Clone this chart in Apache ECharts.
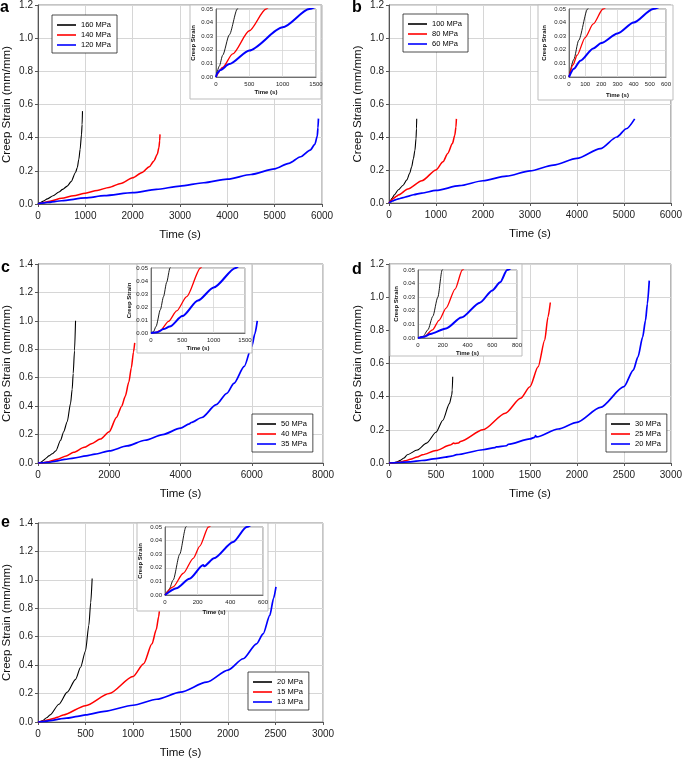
<!DOCTYPE html>
<html>
<head>
<meta charset="utf-8">
<script src="https://cdn.jsdelivr.net/npm/echarts@6/dist/echarts.min.js"></script>
<style>
html,body{margin:0;padding:0;background:#fff;}
#chart{width:685px;height:760px;}
</style>
</head>
<body>
<div id="chart"></div>
<script>
// ---------------- DATA (time s, creep strain mm/mm) ----------------
const a160 = [[0,0],[50,0.008],[100,0.016],[200,0.031],[320,0.05],[442,0.072],[520,0.088],[617,0.108],[700,0.135],[793,0.19],[830,0.22],[863,0.27],[890,0.33],[919,0.42],[932,0.48],[940,0.56]];
const a140 = [[0,0],[100,0.007],[250,0.017],[500,0.034],[750,0.05],[1000,0.065],[1250,0.082],[1500,0.10],[1750,0.124],[2000,0.158],[2200,0.19],[2350,0.225],[2450,0.26],[2520,0.30],[2555,0.34],[2570,0.38],[2578,0.42]];
const a120 = [[0,0],[20,0.003],[60,0.005],[200,0.0095],[500,0.0195],[1000,0.0365],[1400,0.05],[2000,0.068],[2500,0.088],[3000,0.108],[3500,0.128],[4000,0.15],[4500,0.178],[5000,0.212],[5300,0.245],[5550,0.285],[5750,0.325],[5850,0.36],[5900,0.41],[5915,0.46],[5925,0.515]];

const b100 = [[0,0],[30,0.013],[60,0.027],[115,0.05],[200,0.08],[300,0.108],[380,0.14],[440,0.18],[483,0.22],[520,0.27],[552,0.32],[575,0.39],[585,0.45],[590,0.51]];
const b80 = [[0,0],[25,0.009],[50,0.016],[100,0.029],[150,0.039],[210,0.05],[400,0.085],[700,0.135],[1000,0.20],[1150,0.25],[1250,0.30],[1350,0.36],[1400,0.41],[1425,0.46],[1435,0.51]];
const b60 = [[0,0],[30,0.006],[70,0.012],[150,0.021],[200,0.025],[300,0.032],[400,0.040],[520,0.05],[700,0.06],[1000,0.076],[1500,0.105],[2000,0.135],[2500,0.163],[3000,0.195],[3500,0.23],[4000,0.27],[4500,0.33],[4850,0.40],[5050,0.45],[5230,0.51]];

const c50 = [[0,0],[40,0.001],[80,0.005],[150,0.018],[200,0.028],[250,0.039],[303,0.05],[400,0.065],[500,0.085],[634,0.16],[720,0.22],[820,0.29],[914,0.42],[960,0.52],[988,0.63],[1025,0.79],[1054,1.0]];
const c40 = [[0,0],[80,0.0005],[150,0.002],[280,0.009],[410,0.017],[570,0.028],[790,0.05],[1000,0.075],[1300,0.11],[1500,0.135],[1750,0.168],[2000,0.22],[2200,0.32],[2350,0.40],[2450,0.47],[2550,0.57],[2620,0.67],[2680,0.78],[2715,0.845]];
const c35 = [[0,0],[100,0.0005],[200,0.003],[300,0.005],[500,0.013],[750,0.025],[1000,0.035],[1350,0.05],[1600,0.062],[2000,0.085],[2500,0.12],[3000,0.16],[3500,0.20],[4000,0.245],[4250,0.275],[4300,0.285],[4600,0.32],[5000,0.41],[5300,0.49],[5500,0.56],[5790,0.68],[6000,0.82],[6090,0.91],[6155,1.0]];

const d30 = [[0,0],[40,0.001],[80,0.006],[120,0.016],[160,0.03],[195,0.05],[300,0.078],[400,0.12],[500,0.185],[573,0.258],[643,0.358],[668,0.41],[673,0.44],[678,0.52]];
const d25 = [[0,0],[50,0.001],[117,0.006],[170,0.013],[227,0.022],[300,0.036],[358,0.05],[500,0.075],[650,0.108],[690,0.12],[700,0.117],[740,0.12],[760,0.13],[1000,0.20],[1238,0.30],[1400,0.39],[1500,0.46],[1587,0.58],[1657,0.74],[1692,0.88],[1717,0.968]];
const d20 = [[0,0],[50,0.001],[100,0.003],[227,0.007],[350,0.015],[500,0.026],[600,0.035],[664,0.041],[720,0.05],[1000,0.08],[1130,0.093],[1140,0.097],[1250,0.104],[1270,0.113],[1500,0.145],[1550,0.155],[1560,0.165],[1570,0.157],[1800,0.205],[2000,0.245],[2250,0.335],[2500,0.46],[2600,0.56],[2650,0.64],[2700,0.76],[2730,0.86],[2750,0.96],[2770,1.1]];

const e20 = [[0,0],[25,0.004],[50,0.011],[90,0.03],[128,0.05],[220,0.125],[308,0.21],[395,0.30],[448,0.385],[500,0.50],[535,0.68],[555,0.84],[570,1.01]];
const e15 = [[0,0],[50,0.006],[112,0.016],[173,0.027],[213,0.036],[266,0.05],[500,0.115],[750,0.20],[1000,0.32],[1112,0.41],[1200,0.55],[1245,0.65],[1270,0.74],[1285,0.82],[1295,0.9]];
const e13 = [[0,0],[70,0.005],[150,0.012],[234,0.022],[240,0.0212],[300,0.027],[417,0.039],[500,0.05],[700,0.075],[1000,0.118],[1250,0.16],[1500,0.21],[1775,0.28],[2000,0.365],[2160,0.445],[2300,0.55],[2370,0.62],[2440,0.75],[2480,0.87],[2505,0.95]];

// series labels
const namesA = ['160 MPa','140 MPa','120 MPa'];
const namesB = ['100 MPa','80 MPa','60 MPa'];
const namesC = ['50 MPa','40 MPa','35 MPa'];
const namesD = ['30 MPa','25 MPa','20 MPa'];
const namesE = ['20 MPa','15 MPa','13 MPa'];

// axis ranges
const xMaxMain = {a:6000,b:6000,c:8000,d:3000,e:3000};
const xIntMain = {a:1000,b:1000,c:2000,d:500,e:500};
const yMaxMain = {a:1.2,b:1.2,c:1.4,d:1.2,e:1.4};
const xMaxInset = {a:1500,b:600,c:1500,d:800,e:600};
const xIntInset = {a:500,b:100,c:500,d:200,e:200};
const yMaxInset = 0.05;

const colors = ['#000000','#ff0000','#0000ff'];

// ---------------- LAYOUT ----------------
const FONT = 'Liberation Sans, Arial, sans-serif';
const layout = {
  a:{grid:{left:37,top:5,width:285,height:199}, inset:{left:216,top:9,width:100,height:68}, box:[190,5,131,94], legend:{left:52,top:15}, letter:[0,8], inName:[12,20]},
  b:{grid:{left:389,top:5,width:285,height:198}, inset:{left:569,top:9,width:97,height:68}, box:[538,5,135,95], legend:{left:403,top:14}, letter:[352,8], inName:[15,22]},
  c:{grid:{left:37,top:264,width:286,height:199}, inset:{left:151,top:268,width:94,height:65}, box:[137,264,115,89], legend:{left:252,top:414}, letter:[1,268], inName:[12,19]},
  d:{grid:{left:389,top:264,width:285,height:199}, inset:{left:418,top:270,width:99,height:68}, box:[390,264,132,92], legend:{left:606,top:414}, letter:[352,269.5], inName:[12,18]},
  e:{grid:{left:37,top:523,width:286,height:199}, inset:{left:165,top:527,width:98,height:68}, box:[137,523,131,88], legend:{left:248,top:672}, letter:[1,523], inName:[14,22]}
};

const panelData = {
  a:{names:namesA, data:[a160,a140,a120]},
  b:{names:namesB, data:[b100,b80,b60]},
  c:{names:namesC, data:[c50,c40,c35]},
  d:{names:namesD, data:[d30,d25,d20]},
  e:{names:namesE, data:[e20,e15,e13]}
};

const mainWidths = [1.1,1.5,1.7];
const insetWidths = [0.9,1.3,2.0];

const grid = [], xAxis = [], yAxis = [], series = [], legend = [], graphic = [];
const keys = ['a','b','c','d','e'];
keys.forEach((k, pi) => {
  const L = layout[k];
  const gi = grid.length;
  grid.push(Object.assign({show:true, borderColor:'#8a8a8a', borderWidth:1, backgroundColor:'#fff', z:0}, L.grid));
  xAxis.push({type:'value', gridIndex:gi, min:0, max:xMaxMain[k], interval:xIntMain[k],
    name:'Time (s)', nameLocation:'middle', nameGap:25,
    nameTextStyle:{fontSize:11.5, fontFamily:FONT, color:'#111'},
    axisLine:{show:true, lineStyle:{color:'#555', width:1}},
    axisTick:{show:true, length:3, lineStyle:{color:'#555'}},
    axisLabel:{fontSize:10, fontFamily:FONT, color:'#222', margin:7, formatter:v=>String(v)},
    splitLine:{show:true, lineStyle:{color:'#d6d6d6', width:1}}});
  yAxis.push({type:'value', gridIndex:gi, min:0, max:yMaxMain[k], interval:0.2,
    name:'Creep Strain (mm/mm)', nameLocation:'middle', nameGap:25,
    nameTextStyle:{fontSize:11.5, fontFamily:FONT, color:'#111'},
    axisLine:{show:true, lineStyle:{color:'#555', width:1}},
    axisTick:{show:true, length:3, lineStyle:{color:'#555'}},
    axisLabel:{fontSize:10, fontFamily:FONT, color:'#222', margin:5, formatter:v=>v.toFixed(1)},
    splitLine:{show:true, lineStyle:{color:'#d6d6d6', width:1}}});
  const P = panelData[k];
  const legendNames = [];
  P.data.forEach((d, si) => {
    const nm = k + '|' + P.names[si];
    legendNames.push(nm);
    series.push({type:'line', name:nm, xAxisIndex:gi, yAxisIndex:gi, data:d, symbol:'none',
      smooth:0.25, smoothMonotone:'x', clip:true, z:2,
      lineStyle:{color:colors[si], width:mainWidths[si]}, itemStyle:{color:colors[si]}});
  });
  legend.push({data:legendNames, left:L.legend.left, top:L.legend.top, orient:'vertical',
    icon:'rect', itemWidth:19, itemHeight:1.6, itemGap:2, padding:[6,6,4,5],
    borderColor:'#222', borderWidth:0.8, backgroundColor:'#fff', z:20,
    formatter:n=>n.split('|')[1],
    textStyle:{fontSize:7.5, fontFamily:FONT, color:'#000', lineHeight:8}});

  // inset
  graphic.push({type:'rect', z:5, shape:{x:L.box[0], y:L.box[1], width:L.box[2], height:L.box[3]},
    style:{fill:'#fff', stroke:'#bdbdbd', lineWidth:1}});
  const ii = grid.length;
  grid.push(Object.assign({show:true, borderColor:'#8a8a8a', borderWidth:1, backgroundColor:'#fff', z:6}, L.inset));
  xAxis.push({type:'value', gridIndex:ii, min:0, max:xMaxInset[k], interval:xIntInset[k], z:7,
    name:'Time (s)', nameLocation:'middle', nameGap:L.inName[0],
    nameTextStyle:{fontSize:6, fontWeight:'bold', fontFamily:FONT, color:'#111'},
    axisLine:{show:true, lineStyle:{color:'#555', width:0.8}},
    axisTick:{show:false},
    axisLabel:{fontSize:6, fontFamily:FONT, color:'#222', margin:4, formatter:v=>String(v)},
    splitLine:{show:true, lineStyle:{color:'#d6d6d6', width:0.8}}});
  yAxis.push({type:'value', gridIndex:ii, min:0, max:yMaxInset, interval:0.01, z:7,
    name:'Creep Strain', nameLocation:'middle', nameGap:L.inName[1],
    nameTextStyle:{fontSize:6, fontWeight:'bold', fontFamily:FONT, color:'#111'},
    axisLine:{show:true, lineStyle:{color:'#555', width:0.8}},
    axisTick:{show:false},
    axisLabel:{fontSize:6, fontFamily:FONT, color:'#222', margin:3, formatter:v=>v.toFixed(2)},
    splitLine:{show:true, lineStyle:{color:'#d6d6d6', width:0.8}}});
  P.data.forEach((d, si) => {
    series.push({type:'line', name:k + '-inset|' + P.names[si], xAxisIndex:ii, yAxisIndex:ii, data:d, symbol:'none',
      smooth:0.25, smoothMonotone:'x', clip:true, z:8,
      lineStyle:{color:colors[si], width:insetWidths[si]}, itemStyle:{color:colors[si]}});
  });

  graphic.push({type:'text', z:30, x:L.letter[0], y:L.letter[1],
    style:{text:k, font:'bold 16px ' + FONT, fill:'#000', textVerticalAlign:'middle', verticalAlign:'middle'}});
});

const chart = echarts.init(document.getElementById('chart'), null, {renderer:'canvas'});
chart.setOption({animation:false, backgroundColor:'#fff', grid, xAxis, yAxis, series, legend, graphic});
</script>
</body>
</html>
